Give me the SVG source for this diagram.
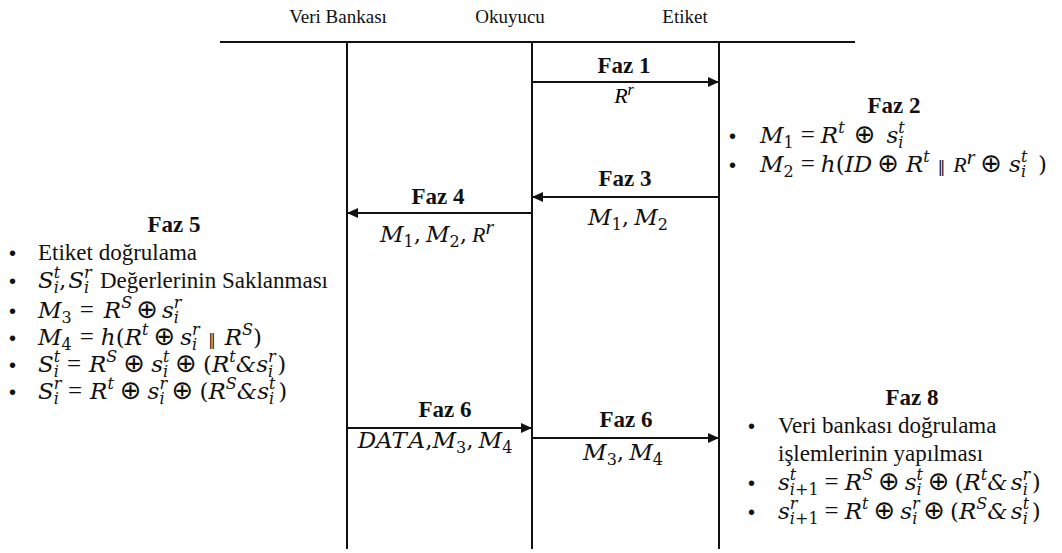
<svg xmlns="http://www.w3.org/2000/svg" width="1062" height="553" viewBox="0 0 1062 553">
<defs>
<marker id="ah" markerUnits="userSpaceOnUse" markerWidth="11" markerHeight="10" refX="11" refY="5" orient="auto"><path d="M0,0 L11,5 L0,10 z" fill="#111"/></marker>
<style>
.t{font-family:'Liberation Serif',Tinos,'Times New Roman','DejaVu Serif',serif;font-size:23px;fill:#111}
.hd{font-family:'Liberation Serif','Times New Roman',serif;font-size:19px;fill:#111;text-anchor:middle}
.b{font-family:'Liberation Serif',Tinos,'Times New Roman','DejaVu Serif',serif;font-size:23px;font-weight:bold;fill:#111;text-anchor:middle}
.m{font-family:'DejaVu Serif',serif;font-style:italic;font-size:23px;fill:#111}
.c{text-anchor:middle}
.s{font-size:16px}
.n{font-style:normal}
.e{font-family:'Liberation Serif','DejaVu Serif',serif;font-style:normal;font-size:25px}
.o{font-family:'DejaVu Sans',sans-serif;font-style:normal;font-size:26px}
.p{font-family:'DejaVu Sans',sans-serif;font-style:normal;font-size:15px}
.tr{font-family:'Liberation Serif','DejaVu Serif',serif;font-style:italic;font-size:22px}
.bu{font-family:'Liberation Sans','DejaVu Sans',sans-serif;font-size:20px;fill:#111}
.ln{stroke:#111;stroke-width:2;fill:none}
.ar{stroke:#111;stroke-width:2;fill:none;marker-end:url(#ah)}
</style>
</defs>
<rect width="1062" height="553" fill="#fff"/>

<g id="header-line"><line class="ln" x1="220" y1="42" x2="855" y2="42" stroke="#333"/></g>

<g id="veri-bankasi">
<text class="hd" x="338" y="23">Veri Bankası</text>
<line class="ln" x1="347" y1="42" x2="347" y2="549"/>
</g>
<g id="okuyucu">
<text class="hd" x="510" y="23">Okuyucu</text>
<line class="ln" x1="532" y1="42" x2="532" y2="549"/>
</g>
<g id="etiket">
<text class="hd" x="685" y="23">Etiket</text>
<line class="ln" x1="719" y1="42" x2="719" y2="549"/>
</g>

<g id="connectors">
<line class="ar" x1="532" y1="82" x2="719" y2="82"/>
<line class="ar" x1="719" y1="197" x2="532" y2="197"/>
<line class="ar" x1="532" y1="213" x2="347" y2="213"/>
<line class="ar" x1="347" y1="428" x2="532" y2="428"/>
<line class="ar" x1="532" y1="438" x2="719" y2="438"/>
</g>

<g id="connector-labels">
<text class="b" x="624" y="73">Faz 1</text>
<text class="tr c" x="624" y="103">R<tspan class="s" dy="-8">r</tspan></text>

<text class="b" x="625" y="186">Faz 3</text>
<text class="m c" x="628" y="225">M<tspan class="s n" dy="5">1</tspan><tspan class="n" dy="-5">,</tspan><tspan dx="5">M</tspan><tspan class="s n" dy="5">2</tspan></text>

<text class="b" x="438" y="204">Faz 4</text>
<text class="m c" x="437" y="242">M<tspan class="s n" dy="5">1</tspan><tspan class="n" dy="-5">,</tspan><tspan dx="5">M</tspan><tspan class="s n" dy="5">2</tspan><tspan class="n" dy="-5">,</tspan><tspan class="tr" dx="5">R</tspan><tspan class="tr s" dy="-8">r</tspan></text>

<text class="b" x="445" y="417">Faz 6</text>
<text class="m c" x="435" y="448">DAT<tspan dx="3">A</tspan><tspan class="n">,</tspan>M<tspan class="s n" dy="5">3</tspan><tspan class="n" dy="-5">,</tspan><tspan dx="5">M</tspan><tspan class="s n" dy="5">4</tspan></text>

<text class="b" x="626" y="427">Faz 6</text>
<text class="m c" x="623" y="460">M<tspan class="s n" dy="5">3</tspan><tspan class="n" dy="-5">,</tspan><tspan dx="5">M</tspan><tspan class="s n" dy="5">4</tspan></text>
</g>

<g id="faz2">
<text class="b" x="894" y="113">Faz 2</text>
<text class="bu" x="729" y="143">•</text>
<text class="m" x="760" y="143">M<tspan class="s n" dy="5">1</tspan><tspan class="e" dx="7" dy="-5">=</tspan><tspan dx="6">R</tspan><tspan class="s" dy="-10">t</tspan><tspan class="o" dx="9" dy="10">⊕</tspan><tspan dx="11">s</tspan><tspan class="s" dy="-10">t</tspan><tspan class="s" dx="-6.4" dy="15">i</tspan></text>
<text class="bu" x="729" y="172">•</text>
<text class="m" x="760" y="172">M<tspan class="s n" dy="5">2</tspan><tspan class="e" dx="7" dy="-5">=</tspan><tspan dx="6">h</tspan><tspan class="n">(</tspan>ID<tspan class="o" dx="5">⊕</tspan><tspan dx="7">R</tspan><tspan class="s" dy="-10">t</tspan><tspan class="p" dx="8" dy="10">‖</tspan><tspan class="tr" dx="8">R</tspan><tspan class="tr s" dy="-8">r</tspan><tspan class="o" dx="5" dy="8">⊕</tspan><tspan dx="7">s</tspan><tspan class="s" dy="-10">t</tspan><tspan class="s" dx="-6.4" dy="15">i</tspan><tspan class="n" dx="12" dy="-5">)</tspan></text>
</g>

<g id="faz5">
<text class="b" x="174" y="232">Faz 5</text>
<text class="bu" x="9" y="260">•</text>
<text class="t" x="38" y="260">Etiket doğrulama</text>
<text class="bu" x="9" y="288">•</text>
<text class="m" x="38" y="288">S<tspan class="s" dy="-10">t</tspan><tspan class="s" dx="-6.4" dy="15">i</tspan><tspan class="n" dy="-5">,</tspan><tspan dx="2">S</tspan><tspan class="s" dy="-10">r</tspan><tspan class="s" dx="-7.6" dy="15">i</tspan><tspan class="t n" x="100" dy="-5">Değerlerinin Saklanması</tspan></text>
<text class="bu" x="9" y="318">•</text>
<text class="m" x="38" y="318">M<tspan class="s n" dy="5">3</tspan><tspan class="e" dx="8" dy="-5">=</tspan><tspan dx="10">R</tspan><tspan class="s" dy="-10">S</tspan><tspan class="o" dx="4" dy="10">⊕</tspan><tspan dx="4">s</tspan><tspan class="s" dy="-10">r</tspan><tspan class="s" dx="-7.6" dy="15">i</tspan></text>
<text class="bu" x="9" y="345">•</text>
<text class="m" x="38" y="345">M<tspan class="s n" dy="5">4</tspan><tspan class="e" dx="8" dy="-5">=</tspan><tspan dx="7">h</tspan><tspan class="n">(</tspan>R<tspan class="s" dy="-10">t</tspan><tspan class="o" dx="5" dy="10">⊕</tspan><tspan dx="5">s</tspan><tspan class="s" dy="-10">r</tspan><tspan class="s" dx="-7.6" dy="15">i</tspan><tspan class="p" dx="11" dy="-5">‖</tspan><tspan dx="9">R</tspan><tspan class="s" dy="-10">S</tspan><tspan class="n" dy="10">)</tspan></text>
<text class="bu" x="9" y="372">•</text>
<text class="m" x="38" y="372">S<tspan class="s" dy="-10">t</tspan><tspan class="s" dx="-6.4" dy="15">i</tspan><tspan class="e" dx="8" dy="-5">=</tspan><tspan dx="8">R</tspan><tspan class="s" dy="-10">S</tspan><tspan class="o" dx="6" dy="10">⊕</tspan><tspan dx="6">s</tspan><tspan class="s" dy="-10">t</tspan><tspan class="s" dx="-6.4" dy="15">i</tspan><tspan class="o" dx="7" dy="-5">⊕</tspan><tspan class="n" dx="6">(</tspan>R<tspan class="s" dy="-10">t</tspan><tspan dy="10">&amp;</tspan>s<tspan class="s" dy="-10">r</tspan><tspan class="s" dx="-7.6" dy="15">i</tspan><tspan class="n" dx="4" dy="-5">)</tspan></text>
<text class="bu" x="9" y="399">•</text>
<text class="m" x="38" y="399">S<tspan class="s" dy="-10">r</tspan><tspan class="s" dx="-7.6" dy="15">i</tspan><tspan class="e" dx="9" dy="-5">=</tspan><tspan dx="8">R</tspan><tspan class="s" dy="-10">t</tspan><tspan class="o" dx="6" dy="10">⊕</tspan><tspan dx="6">s</tspan><tspan class="s" dy="-10">r</tspan><tspan class="s" dx="-7.6" dy="15">i</tspan><tspan class="o" dx="7" dy="-5">⊕</tspan><tspan class="n" dx="6">(</tspan>R<tspan class="s" dy="-10">S</tspan><tspan dy="10">&amp;</tspan>s<tspan class="s" dy="-10">t</tspan><tspan class="s" dx="-6.4" dy="15">i</tspan><tspan class="n" dx="4" dy="-5">)</tspan></text>
</g>

<g id="faz8">
<text class="b" x="912" y="405">Faz 8</text>
<text class="bu" x="748" y="433">•</text>
<text class="t" x="778" y="433">Veri bankası doğrulama</text>
<text class="t" x="778" y="461">işlemlerinin yapılması</text>
<text class="bu" x="748" y="490">•</text>
<text class="m" x="778" y="490">s<tspan class="s" dy="-10">t</tspan><tspan class="s" dx="-6.4" dy="15">i<tspan class="n">+1</tspan></tspan><tspan class="e" dx="6" dy="-5">=</tspan><tspan dx="6">R</tspan><tspan class="s" dy="-10">S</tspan><tspan class="o" dx="5" dy="10">⊕</tspan><tspan dx="5">s</tspan><tspan class="s" dy="-10">t</tspan><tspan class="s" dx="-6.4" dy="15">i</tspan><tspan class="o" dx="6" dy="-5">⊕</tspan><tspan class="n" dx="5">(</tspan>R<tspan class="s" dy="-10">t</tspan><tspan dy="10">&amp;</tspan><tspan dx="3">s</tspan><tspan class="s" dy="-10">r</tspan><tspan class="s" dx="-7.6" dy="15">i</tspan><tspan class="n" dx="4" dy="-5">)</tspan></text>
<text class="bu" x="748" y="519">•</text>
<text class="m" x="778" y="519">s<tspan class="s" dy="-10">r</tspan><tspan class="s" dx="-7.6" dy="15">i<tspan class="n">+1</tspan></tspan><tspan class="e" dx="6" dy="-5">=</tspan><tspan dx="6">R</tspan><tspan class="s" dy="-10">t</tspan><tspan class="o" dx="5" dy="10">⊕</tspan><tspan dx="5">s</tspan><tspan class="s" dy="-10">r</tspan><tspan class="s" dx="-7.6" dy="15">i</tspan><tspan class="o" dx="6" dy="-5">⊕</tspan><tspan class="n" dx="5">(</tspan>R<tspan class="s" dy="-10">S</tspan><tspan dy="10">&amp;</tspan><tspan dx="3">s</tspan><tspan class="s" dy="-10">t</tspan><tspan class="s" dx="-6.4" dy="15">i</tspan><tspan class="n" dx="4" dy="-5">)</tspan></text>
</g>
</svg>
